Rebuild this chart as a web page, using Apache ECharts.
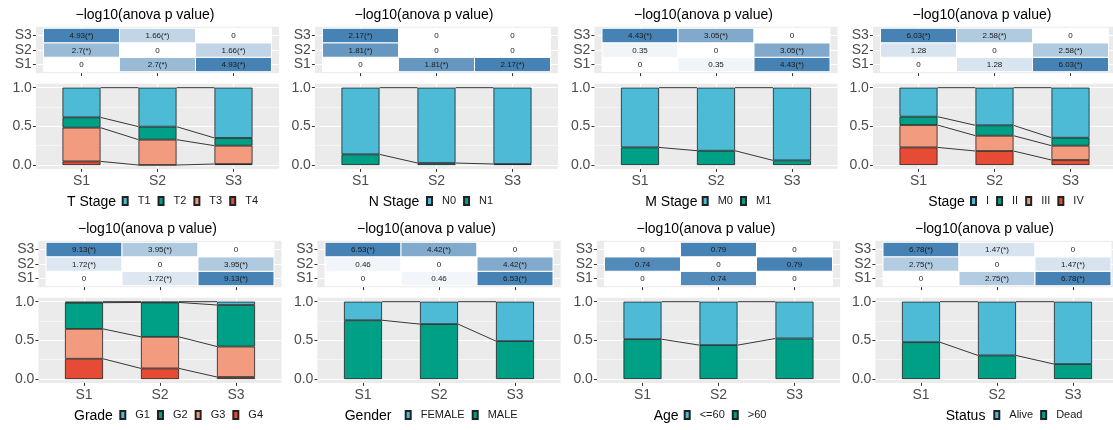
<!DOCTYPE html>
<html>
<head>
<meta charset="utf-8">
<script src="https://cdn.jsdelivr.net/npm/echarts@6/dist/echarts.min.js"></script>
<style>
  html, body { margin: 0; padding: 0; background: #ffffff; }
  #chart { width: 1113px; height: 430px; }
</style>
</head>
<body>
<div id="chart"></div>
<script>
// Subtype groups (x axis of every panel, rows/cols of every heatmap)
var groups = ['S1', 'S2', 'S3'];
var heatTitle = '\u2212log10(anova p value)';
var fillColors = ['#4DBBD5', '#00A087', '#F39B7F', '#E64B35'];

// Shares per level (rows) for S1, S2, S3 ; anova pairs = [S1-S2, S1-S3, S2-S3]
var tStageLevels = ['T1', 'T2', 'T3', 'T4'];
var tStageShares = [[0.384, 0.504, 0.650], [0.133, 0.168, 0.100], [0.436, 0.328, 0.237], [0.047, 0.000, 0.013]];
var tStageAnova = [2.7, 4.93, 1.66];

var nStageLevels = ['N0', 'N1'];
var nStageShares = [[0.862, 0.974, 0.987], [0.138, 0.026, 0.013]];
var nStageAnova = [1.81, 2.17, 0];

var mStageLevels = ['M0', 'M1'];
var mStageShares = [[0.772, 0.815, 0.940], [0.228, 0.185, 0.060]];
var mStageAnova = [0.35, 4.43, 3.05];

var stageLevels = ['I', 'II', 'III', 'IV'];
var stageShares = [[0.375, 0.487, 0.647], [0.108, 0.134, 0.103], [0.289, 0.198, 0.185], [0.228, 0.181, 0.065]];
var stageAnova = [1.28, 6.03, 2.58];

var gradeLevels = ['G1', 'G2', 'G3', 'G4'];
var gradeShares = [[0.013, 0.010, 0.043], [0.339, 0.445, 0.537], [0.386, 0.408, 0.394], [0.262, 0.137, 0.026]];
var gradeAnova = [1.72, 9.13, 3.95];

var genderLevels = ['FEMALE', 'MALE'];
var genderShares = [[0.240, 0.290, 0.510], [0.760, 0.710, 0.490]];
var genderAnova = [0.46, 6.53, 4.42];

var ageLevels = ['<=60', '>60'];
var ageShares = [[0.485, 0.562, 0.476], [0.515, 0.438, 0.524]];
var ageAnova = [0.74, 0, 0.79];

var statusLevels = ['Alive', 'Dead'];
var statusShares = [[0.524, 0.695, 0.807], [0.476, 0.305, 0.193]];
var statusAnova = [2.75, 6.78, 1.47];

var yTicks = [0, 0.5, 1];

var panels = [
  { name: 'T Stage', levels: tStageLevels, shares: tStageShares, anova: tStageAnova },
  { name: 'N Stage', levels: nStageLevels, shares: nStageShares, anova: nStageAnova },
  { name: 'M Stage', levels: mStageLevels, shares: mStageShares, anova: mStageAnova },
  { name: 'Stage', levels: stageLevels, shares: stageShares, anova: stageAnova },
  { name: 'Grade', levels: gradeLevels, shares: gradeShares, anova: gradeAnova },
  { name: 'Gender', levels: genderLevels, shares: genderShares, anova: genderAnova },
  { name: 'Age', levels: ageLevels, shares: ageShares, anova: ageAnova },
  { name: 'Status', levels: statusLevels, shares: statusShares, anova: statusAnova }
];

// layout in pixels
var FONT = "'Liberation Sans', Arial, sans-serif";
var colOffset = [0, 279, 558.5, 837];
var rowOffsetY = [0, 214];
var rowShiftX = [0, 2.5];
var unit = 76;
var legendTitleX = [67, 368.7, 645.3, 928.3, 74, 344.7, 653.7, 945.7];
var legendKeysX = [121.7, 426, 701.7, 970, 119.3, 404.7, 683.7, 993.3];
var sigCut = -Math.log10(0.05);

var grid = [], xAxis = [], yAxis = [], series = [], legend = [], visualMap = [], graphic = [];

function cellLabel(v) {
  if (v === 0) return '0';
  return String(v) + (v > sigCut ? '(*)' : '');
}

function pairValue(anova, a, b) {
  if (a === b) return 0;
  var lo = Math.min(a, b), hi = Math.max(a, b);
  if (lo === 0 && hi === 1) return anova[0];
  if (lo === 0 && hi === 2) return anova[1];
  return anova[2];
}

function axisTick(vals) {
  return { show: true, customValues: vals, length: 3, lineStyle: { color: '#333333' } };
}

panels.forEach(function (p, i) {
  var r = Math.floor(i / 4), c = i % 4;
  var c1 = 81.5 + colOffset[c] + rowShiftX[r];
  var left = c1 - 0.6 * unit;
  var width = 3.2 * unit;
  var oy = rowOffsetY[r];

  // ---- heatmap of -log10 p values ----
  var gH = grid.length;
  grid.push({ left: left, top: 26.85 + oy, width: width, height: 46.3, show: true,
    backgroundColor: '#EBEBEB', borderWidth: 0, outerBoundsMode: 'none' });
  xAxis.push({ gridIndex: gH, type: 'value', min: 0.4, max: 3.6,
    axisLine: { show: false, onZero: false },
    axisTick: axisTick([1, 2, 3]),
    axisLabel: { show: false },
    splitLine: { show: true, lineStyle: { color: '#ffffff', width: 1 } } });
  yAxis.push({ gridIndex: gH, type: 'value', min: 0.4, max: 3.6,
    axisLine: { show: false, onZero: false },
    axisTick: axisTick([1, 2, 3]),
    axisLabel: { customValues: [1, 2, 3], margin: 4, fontSize: 14, fontFamily: FONT, color: '#4D4D4D',
      formatter: function (v) { return groups[Math.round(v) - 1]; } },
    splitLine: { show: true, lineStyle: { color: '#ffffff', width: 1 } } });

  var cells = [], labels = [], maxV = 0;
  groups.forEach(function (gx, xi) {
    groups.forEach(function (gy, yi) {
      var v = pairValue(p.anova, xi, yi);
      cells.push([xi + 1, yi + 1, v]);
      labels.push(cellLabel(v));
      if (v > maxV) maxV = v;
    });
  });
  visualMap.push({ type: 'continuous', show: false, seriesIndex: series.length, dimension: 2,
    min: 0, max: maxV, inRange: { color: ['#FFFFFF', '#4682B4'] } });
  series.push({
    type: 'custom', xAxisIndex: gH, yAxisIndex: yAxis.length - 1, data: cells,
    encode: { x: 0, y: 1 }, silent: true,
    renderItem: function (params, api) {
      var tl = api.coord([api.value(0) - 0.5, api.value(1) + 0.5]);
      var sz = api.size([1, 1]);
      return { type: 'group', children: [
        { type: 'rect', shape: { x: tl[0], y: tl[1], width: sz[0], height: sz[1] },
          style: { fill: api.visual('color'), stroke: '#ffffff', lineWidth: 1 } },
        { type: 'text', x: tl[0] + sz[0] / 2, y: tl[1] + sz[1] / 2 + 0.5,
          style: { text: labels[params.dataIndex], align: 'center', verticalAlign: 'middle',
            font: '8px ' + FONT, fill: '#1A1A1A' } }
      ] };
    }
  });

  // ---- panel behind the bars: gray background, grid lines, axis text ----
  var gP = grid.length;
  grid.push({ left: left, top: 83.8 + oy, width: width, height: 85.1, show: true,
    backgroundColor: '#EBEBEB', borderWidth: 0, outerBoundsMode: 'none' });
  var xP = xAxis.length;
  xAxis.push({ gridIndex: gP, type: 'value', min: 0.4, max: 3.6,
    axisLine: { show: false, onZero: false },
    axisTick: axisTick([1, 2, 3]),
    axisLabel: { customValues: [1, 2, 3], margin: 5, fontSize: 14, fontFamily: FONT, color: '#4D4D4D',
      formatter: function (v) { return groups[Math.round(v) - 1]; } },
    splitLine: { show: true, lineStyle: { color: '#ffffff', width: 1 } } });
  var yP = yAxis.length;
  yAxis.push({ gridIndex: gP, type: 'value', min: -0.05, max: 1.05,
    axisLine: { show: false, onZero: false },
    axisTick: axisTick(yTicks),
    axisLabel: { customValues: yTicks, margin: 4, fontSize: 14, fontFamily: FONT, color: '#4D4D4D',
      formatter: function (v) { return v.toFixed(1); } },
    splitLine: { show: true, lineStyle: { color: '#ffffff', width: 1.1 } } });
  // minor grid lines
  yAxis.push({ gridIndex: gP, type: 'value', min: -0.05, max: 1.05,
    axisLine: { show: false, onZero: false },
    axisTick: { show: false, customValues: [0.25, 0.75] },
    axisLabel: { show: false },
    splitLine: { show: true, lineStyle: { color: '#ffffff', width: 0.5 } } });

  // ---- stacked proportion bars on a category grid spanning the three bands ----
  var gB = grid.length;
  grid.push({ left: c1 - 0.5 * unit, top: 83.8 + oy, width: 3 * unit, height: 85.1, show: false,
    outerBoundsMode: 'none' });
  var xB = xAxis.length;
  xAxis.push({ gridIndex: gB, type: 'category', data: groups, show: false });
  var yB = yAxis.length;
  yAxis.push({ gridIndex: gB, type: 'value', min: -0.05, max: 1.05, show: false,
    splitLine: { show: false } });

  var n = p.levels.length;
  for (var k = n - 1; k >= 0; k--) {
    series.push({
      type: 'bar', name: p.levels[k], stack: 'panel' + i,
      xAxisIndex: xB, yAxisIndex: yB, barWidth: '50%', silent: true,
      data: p.shares[k],
      itemStyle: { color: fillColors[k], borderColor: '#222222', borderWidth: 0.8 }
    });
  }

  // connecting lines between stack boundaries of neighbouring bars
  var segs = [];
  for (var b = 0; b < n; b++) {
    var tops = groups.map(function (g, j) {
      var s = 0;
      for (var q = b; q < n; q++) s += p.shares[q][j];
      return s;
    });
    for (var j = 0; j < groups.length - 1; j++) segs.push([j + 1, tops[j], tops[j + 1]]);
  }
  series.push({
    type: 'custom', xAxisIndex: xP, yAxisIndex: yP, data: segs, silent: true, z: 3,
    encode: { x: 0, y: [1, 2] },
    renderItem: function (params, api) {
      var a = api.coord([api.value(0) + 0.25, api.value(1)]);
      var e = api.coord([api.value(0) + 0.75, api.value(2)]);
      return { type: 'line', shape: { x1: a[0], y1: a[1], x2: e[0], y2: e[1] },
        style: { stroke: '#222222', lineWidth: 0.9 } };
    }
  });

  legend.push({ data: p.levels, left: legendKeysX[i], top: 195.5 + oy, padding: 0,
    orient: 'horizontal', icon: 'rect', itemWidth: 5, itemHeight: 8, itemGap: 7,
    selectedMode: false,
    textStyle: { fontSize: 11, fontFamily: FONT, color: '#1A1A1A', padding: [0, 0, 0, 5] } });

  graphic.push({ type: 'text', x: c1 + unit - 12.5, y: 15 + oy, silent: true,
    style: { text: heatTitle, align: 'center', verticalAlign: 'middle', font: '14px ' + FONT, fill: '#000000' } });
  graphic.push({ type: 'text', x: legendTitleX[i], y: 202 + oy, silent: true,
    style: { text: p.name, align: 'left', verticalAlign: 'middle', font: '14px ' + FONT, fill: '#000000' } });
});

var chart = echarts.init(document.getElementById('chart'), null, { renderer: 'canvas' });
chart.setOption({
  backgroundColor: '#ffffff',
  animation: false,
  textStyle: { fontFamily: FONT },
  grid: grid,
  xAxis: xAxis,
  yAxis: yAxis,
  visualMap: visualMap,
  legend: legend,
  series: series,
  graphic: graphic
});

window.addEventListener('resize', function () {
  chart.resize();
});
</script>
</body>
</html>
